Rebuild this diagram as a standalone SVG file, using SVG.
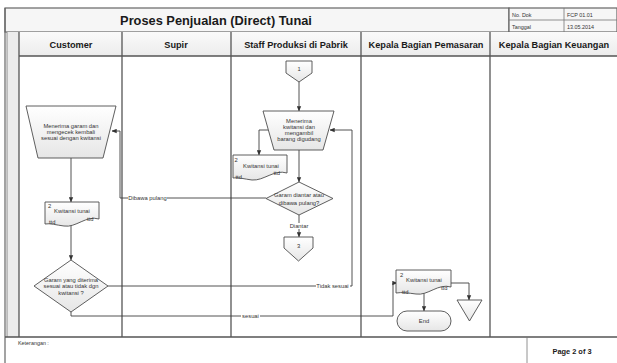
<svg xmlns="http://www.w3.org/2000/svg" width="617" height="363" viewBox="0 0 617 363">
  <defs>
    <linearGradient id="shapeFill" x1="0" y1="0" x2="0" y2="1">
      <stop offset="0" stop-color="#ffffff"/>
      <stop offset="1" stop-color="#e6e6e6"/>
    </linearGradient>
    <linearGradient id="headFill" x1="0" y1="0" x2="0" y2="1">
      <stop offset="0" stop-color="#fafafa"/>
      <stop offset="1" stop-color="#ececec"/>
    </linearGradient>
    <marker id="arrow" viewBox="0 0 8 8" refX="7.5" refY="4" markerWidth="5" markerHeight="5" orient="auto" markerUnits="userSpaceOnUse">
      <path d="M0,0.5 L8,4 L0,7.5 Z" fill="#333"/>
    </marker>
  </defs>
  <style>
    .frame { fill: none; stroke: #666; stroke-width: 1.2; }
    .lane { stroke: #555; stroke-width: 1.3; fill: none; }
    .thin { stroke: #777; stroke-width: 0.8; fill: none; }
    .shape { fill: url(#shapeFill); stroke: #4d4d4d; stroke-width: 0.9; }
    .conn { fill: none; stroke: #404040; stroke-width: 0.9; }
    .arr { marker-end: url(#arrow); }
    .title { font-family: "Liberation Sans", Arial, sans-serif; font-weight: bold; font-size: 12.8px; fill: #1a1a1a; }
    .head { font-family: "Liberation Sans", Arial, sans-serif; font-weight: bold; font-size: 9.2px; fill: #1a1a1a; text-anchor: middle; }
    .meta { font-family: "Liberation Sans", Arial, sans-serif; font-size: 5.4px; fill: #333; }
    .t { font-family: "Liberation Sans", Arial, sans-serif; font-size: 5.8px; fill: #333; text-anchor: middle; }
    .tl { font-family: "Liberation Sans", Arial, sans-serif; font-size: 5.8px; fill: #333; }
    .lbl { font-family: "Liberation Sans", Arial, sans-serif; font-size: 5.8px; fill: #333; text-anchor: middle; }
  </style>

  <rect width="617" height="363" fill="#ffffff"/>

  <!-- page frame, title block and swimlanes -->
  <g id="frame">
    <rect x="5" y="8" width="504" height="24" fill="#f6f6f6" stroke="#666" stroke-width="1.2"/>
    <rect x="509" y="8" width="108" height="24" fill="#f6f6f6" stroke="#666" stroke-width="1.2"/>
    <line class="thin" x1="564" y1="8" x2="564" y2="32"/>
    <line class="thin" x1="509" y1="20" x2="617" y2="20"/>
    <text class="title" x="216" y="24.5" text-anchor="middle">Proses Penjualan (Direct) Tunai</text>
    <text class="meta" x="512" y="17">No. Dok</text>
    <text class="meta" x="567" y="17">FCP 01.01</text>
    <text class="meta" x="512" y="28.5">Tanggal</text>
    <text class="meta" x="567" y="28.5">13.05.2014</text>

    <rect x="19" y="32" width="598" height="24" fill="url(#headFill)"/>
    <rect x="7" y="32" width="12" height="305" fill="#ececec"/>
    <line class="frame" x1="5" y1="8" x2="5" y2="363"/>
    <line class="thin" x1="7" y1="32" x2="7" y2="337"/>
    <line class="lane" x1="19" y1="56" x2="617" y2="56"/>
    <line class="lane" x1="5" y1="337" x2="617" y2="337"/>
    <line class="lane" x1="19" y1="32" x2="19" y2="337"/>
    <line class="lane" x1="122" y1="32" x2="122" y2="337"/>
    <line class="lane" x1="231" y1="32" x2="231" y2="337"/>
    <line class="lane" x1="361" y1="32" x2="361" y2="337"/>
    <line class="lane" x1="490" y1="32" x2="490" y2="337"/>
    <line class="thin" x1="527" y1="337" x2="527" y2="363"/>

    <text class="head" x="71" y="47.5">Customer</text>
    <text class="head" x="176" y="47.5">Supir</text>
    <text class="head" x="296" y="47.5">Staff Produksi di Pabrik</text>
    <text class="head" x="426" y="47.5">Kepala Bagian Pemasaran</text>
    <text class="head" x="554" y="47.5">Kepala Bagian Keuangan</text>

    <text class="meta" x="18" y="345">Keterangan :</text>
    <text x="572" y="354" text-anchor="middle" font-family="'Liberation Sans', Arial, sans-serif" font-weight="bold" font-size="7.4" fill="#1a1a1a">Page 2 of 3</text>
  </g>

  <!-- connectors -->
  <g id="connectors">
    <line class="conn arr" x1="71" y1="158" x2="71" y2="202"/>
    <line class="conn arr" x1="71" y1="225" x2="71" y2="260"/>
    <polyline class="conn arr" points="266,198 120,198 120,131 112,131"/>
    <polyline class="conn arr" points="108,286 352,286 352,130 330,130"/>
    <polyline class="conn arr" points="71,312 71,316 393,316 393,283 397,283"/>
    <line class="conn arr" x1="299" y1="82" x2="299" y2="111"/>
    <polyline class="conn arr" points="268,130 259,130 259,155"/>
    <line class="conn arr" x1="299" y1="150" x2="299" y2="182"/>
    <line class="conn arr" x1="299" y1="215" x2="299" y2="237"/>
    <polyline class="conn arr" points="451,283 469,283 469,300"/>
    <line class="conn arr" x1="424" y1="292" x2="424" y2="311"/>

    <rect x="128" y="195.5" width="39" height="6" fill="#fff"/>
    <text class="lbl" x="147.5" y="200">Dibawa pulang</text>
    <rect x="288" y="223" width="22" height="6" fill="#fff"/>
    <text class="lbl" x="299" y="228">Diantar</text>
    <rect x="316" y="283" width="34" height="6" fill="#fff"/>
    <text class="lbl" x="332.5" y="287.5">Tidak sesuai</text>
    <rect x="241" y="313" width="19" height="6" fill="#fff"/>
    <text class="lbl" x="250.5" y="318">sesuai</text>
  </g>

  <!-- Customer lane -->
  <g id="cust-check">
    <path class="shape" d="M26,106 H116 L103,158 H38 Z"/>
    <text class="t" x="71" y="128">Menerima garam dan</text>
    <text class="t" x="71" y="134">mengecek kembali</text>
    <text class="t" x="71" y="140">sesuai dengan kwitansi</text>
  </g>
  <g id="cust-doc">
    <path class="shape" d="M45,202 H99 V219 C86,215 76,228 64,226 C56,225 50,223 45,224 Z"/>
    <text class="tl" x="48" y="207.5">2</text>
    <text class="t" x="72" y="213">Kwitansi tunai</text>
    <text class="tl" x="49" y="224">ttd</text>
    <text class="tl" x="87" y="220.5">ttd</text>
  </g>
  <g id="cust-decision">
    <path class="shape" d="M71,260 L108,286 L71,312 L34,286 Z"/>
    <text class="t" x="71" y="281.5">Garam yang diterima</text>
    <text class="t" x="71" y="288">sesuai  atau tidak dgn</text>
    <text class="t" x="71" y="294.5">kwitansi ?</text>
  </g>

  <!-- Staff Produksi lane -->
  <g id="staff-in">
    <path class="shape" d="M286,61 H312 V73 L299,82 L286,73 Z"/>
    <text class="t" x="299" y="71">1</text>
  </g>
  <g id="staff-take">
    <path class="shape" d="M263,111 H334 L323,150 H274 Z"/>
    <text class="t" x="299" y="123">Menerima</text>
    <text class="t" x="299" y="129">kwitansi dan</text>
    <text class="t" x="299" y="135">mengambil</text>
    <text class="t" x="299" y="141">barang digudang</text>
  </g>
  <g id="staff-doc">
    <path class="shape" d="M233,155 H287 V173 C274,169 264,181 252,180 C244,179 238,177 233,178 Z"/>
    <text class="tl" x="234.5" y="162">2</text>
    <text class="t" x="261" y="168">Kwitansi tunai</text>
    <text class="tl" x="235.5" y="179">ttd</text>
    <text class="tl" x="273.5" y="175">ttd</text>
  </g>
  <g id="staff-decision">
    <path class="shape" d="M299,182 L333,198.5 L299,215 L266,198.5 Z"/>
    <text class="t" x="299" y="197">Garam diantar atau</text>
    <text class="t" x="299" y="204.5">dibawa pulang?</text>
  </g>
  <g id="staff-out">
    <path class="shape" d="M284,237 H313 V248 L298.5,261 L284,248 Z"/>
    <text class="t" x="298.5" y="248">3</text>
  </g>

  <!-- Kepala Bagian Pemasaran lane -->
  <g id="mkt-doc">
    <path class="shape" d="M396,270 H451 V287 C438,283 428,296 416,294 C408,293 402,292 396,293 Z"/>
    <text class="tl" x="400" y="276.5">2</text>
    <text class="t" x="424" y="281.5">Kwitansi tunai</text>
    <text class="tl" x="402" y="294">ttd</text>
    <text class="tl" x="441" y="289.5">ttd</text>
  </g>
  <g id="mkt-file">
    <path class="shape" d="M457,300 H482 L469.5,321 Z"/>
  </g>
  <g id="mkt-end">
    <rect class="shape" x="397" y="311" width="54" height="20" rx="10" ry="10"/>
    <text class="t" x="424" y="323">End</text>
  </g>
</svg>
